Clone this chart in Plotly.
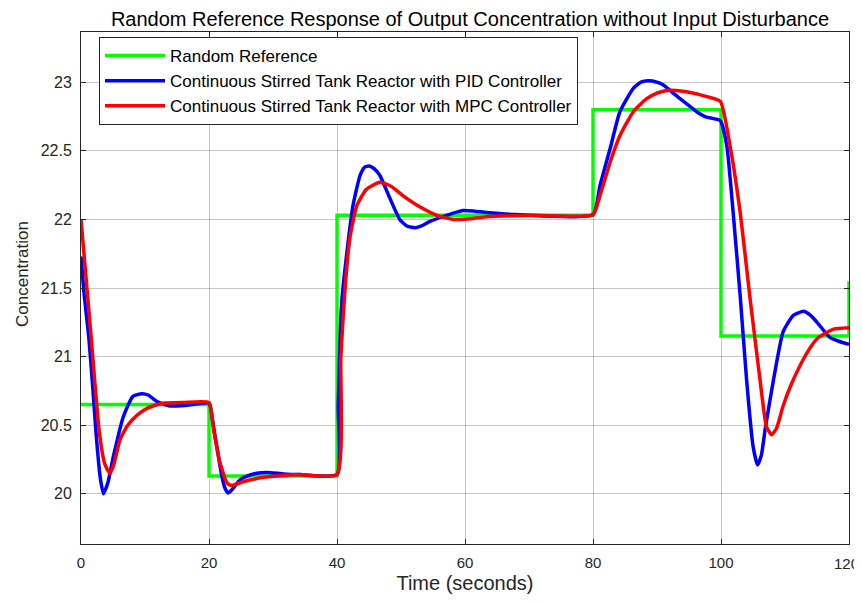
import plotly.graph_objects as go

# Reference (step) signal
ref_t = [0, 20, 40, 80, 100, 120]
ref_v = [20.65, 20.13, 22.03, 22.80, 21.15, 21.55]

# PID controller response
pid_t = [0, 0.5, 1.2, 1.8, 2.34, 3.0, 3.5, 4.2, 5.05, 6.6, 8.1, 9.5, 10.5, 11.8, 13.9, 16.5, 20.0,
         20.5, 21.2, 22.0, 22.5, 23.0, 23.6, 24.8, 26.0, 27.5, 29.1, 31.6, 34.0, 40.0,
         40.2, 40.7, 41.5, 42.5, 43.6, 44.3, 45.05, 45.8, 46.7, 48.3, 49.8, 51.0, 52.2, 53.3, 54.5,
         57.1, 59.7, 61.5, 63.4, 68.0, 80.0,
         81.1, 82.7, 84.2, 86.3, 87.5, 88.6, 90.0, 91.0, 92.3, 93.6, 95.0, 96.2, 97.5, 98.8, 99.9,
         100.9, 101.9, 103.0, 104.0, 105.0, 105.7, 106.3, 106.9, 108.2, 109.7, 111.3, 112.9, 114.0,
         115.0, 117.0, 118.5, 120.0]
pid_v = [21.73, 21.45, 21.15, 20.80, 20.45, 20.12, 20.0, 20.08, 20.27, 20.56, 20.71, 20.73, 20.72, 20.675, 20.64, 20.645, 20.66,
         20.55, 20.35, 20.13, 20.04, 20.005, 20.03, 20.10, 20.13, 20.15, 20.155, 20.145, 20.14, 20.14,
         20.64, 21.37, 21.74, 22.10, 22.32, 22.38, 22.39, 22.37, 22.32, 22.15, 22.0, 21.95, 21.94, 21.955, 21.985,
         22.03, 22.065, 22.06, 22.05, 22.035, 22.035,
         22.25, 22.52, 22.785, 22.955, 23.0, 23.01, 23.0, 22.98, 22.93, 22.88, 22.83, 22.785, 22.75, 22.735, 22.72,
         22.54, 22.05, 21.44, 20.83, 20.35, 20.21, 20.28, 20.47, 20.83, 21.18, 21.30, 21.33, 21.30,
         21.25, 21.14, 21.11, 21.09]

# MPC controller response
mpc_t = [0, 0.5, 1.5, 2.86, 3.7, 4.5, 5.05, 6.1, 7.3, 8.7, 10.0, 11.25, 12.8, 16.0, 20.0,
         20.7, 21.7, 22.8, 23.5, 24.5, 26.4, 28.5, 30.6, 34.2, 40.0,
         40.6, 41.25, 42.0, 43.1, 44.6, 46.7, 48.5, 50.4, 53.0, 55.6, 58.2, 61.0, 63.4, 70.6, 80.0,
         81.1, 82.7, 84.2, 86.3, 88.4, 90.0, 91.5, 93.0, 94.6, 97.8, 99.9,
         101.4, 103.0, 104.5, 106.1, 107.1, 107.9, 108.7, 109.7, 111.0, 112.3, 113.6, 115.0, 116.3,
         117.6, 120.0]
mpc_v = [22.0, 21.73, 21.19, 20.45, 20.22, 20.15, 20.20, 20.395, 20.50, 20.57, 20.615, 20.64, 20.66, 20.665, 20.665,
         20.47, 20.23, 20.08, 20.06, 20.075, 20.10, 20.12, 20.13, 20.14, 20.14,
         21.0, 21.49, 21.86, 22.10, 22.22, 22.27, 22.24, 22.17, 22.09, 22.03, 22.0, 22.005, 22.02, 22.03, 22.035,
         22.175, 22.42, 22.61, 22.785, 22.88, 22.92, 22.94, 22.94, 22.93, 22.895, 22.86,
         22.54, 22.05, 21.44, 20.83, 20.49, 20.43, 20.48, 20.64, 20.80, 20.93, 21.04, 21.13, 21.17,
         21.20, 21.21]

x_ticks = [0, 20, 40, 60, 80, 100, 120]
x_tick_labels = ["0", "20", "40", "60", "80", "100", "120"]
y_ticks = [20, 20.5, 21, 21.5, 22, 22.5, 23]
y_tick_labels = ["20", "20.5", "21", "21.5", "22", "22.5", "23"]

title_text = "Random Reference Response of Output Concentration without Input Disturbance"
x_title = "Time (seconds)"
y_title = "Concentration"
names = ["Random Reference",
         "Continuous Stirred Tank Reactor with PID Controller",
         "Continuous Stirred Tank Reactor with MPC Controller"]

FONT = "Liberation Sans, Arial, sans-serif"
TXT = "#262626"

# page body has an 8px margin; keep the page from overflowing the window
W, H = 854, 588
L, R, T, B = 73, 13, 24, 52
PW, PH = W - L - R, H - T - B

fig = go.Figure()
fig.add_trace(go.Scatter(x=ref_t, y=ref_v, mode="lines", line_shape="hv",
                         line=dict(color="#00FF00", width=3.5), name=names[0]))
fig.add_trace(go.Scatter(x=pid_t, y=pid_v, mode="lines", line_shape="spline",
                         line=dict(color="#0000FF", width=3.5, smoothing=0.5), name=names[1]))
fig.add_trace(go.Scatter(x=mpc_t, y=mpc_v, mode="lines", line_shape="spline",
                         line=dict(color="#FF0000", width=3.5, smoothing=0.5), name=names[2]))

axis_common = dict(showline=True, linecolor=TXT, linewidth=1, mirror="allticks",
                   ticks="inside", ticklen=5, tickcolor=TXT,
                   showgrid=True, gridcolor="rgba(0,0,0,0.22)", gridwidth=1,
                   zeroline=False, ticklabeloverflow="allow", automargin=False)

# last x label would be clipped at the page edge: draw it right-aligned instead
fig.update_xaxes(range=[0, 120], tickvals=x_ticks, ticktext=x_tick_labels[:-1] + [""],
                 ticklabelstandoff=5,
                 tickfont=dict(family=FONT, size=15, color=TXT),
                 title=dict(text=x_title, font=dict(family=FONT, size=20, color=TXT), standoff=5),
                 **axis_common)
fig.update_yaxes(range=[19.634, 23.366], tickvals=y_ticks, ticktext=y_tick_labels,
                 tickfont=dict(family=FONT, size=16, color=TXT),
                 ticklabelstandoff=5, **axis_common)

fig.add_annotation(text=x_tick_labels[-1], xref="paper", yref="paper",
                   x=(W - 1 - L) / PW, y=-19 / PH, xanchor="right", yanchor="middle",
                   showarrow=False, font=dict(family=FONT, size=15, color=TXT))

fig.add_annotation(text=y_title, textangle=-90, xref="paper", yref="paper",
                   x=(14 - L) / PW, y=1 - (266 - T) / PH, xanchor="center", yanchor="middle",
                   showarrow=False, font=dict(family=FONT, size=17, color=TXT))

fig.update_layout(
    width=W, height=H,
    margin=dict(l=L, r=R, t=T, b=B, autoexpand=False),
    paper_bgcolor="white", plot_bgcolor="white",
    title=dict(text=title_text, x=(L + PW / 2) / W + 5 / W, xanchor="center",
               y=1 - 11 / H, yanchor="middle", yref="container",
               font=dict(family=FONT, size=20, color="black")),
    legend=dict(x=(99 - 81) / PW, y=1 - (37 - 32) / PH, xanchor="left", yanchor="top",
                bgcolor="white", bordercolor=TXT, borderwidth=1,
                font=dict(family=FONT, size=17, color="black"),
                itemwidth=60, tracegroupgap=0),
    showlegend=True,
)

fig.write_html("out.html")
